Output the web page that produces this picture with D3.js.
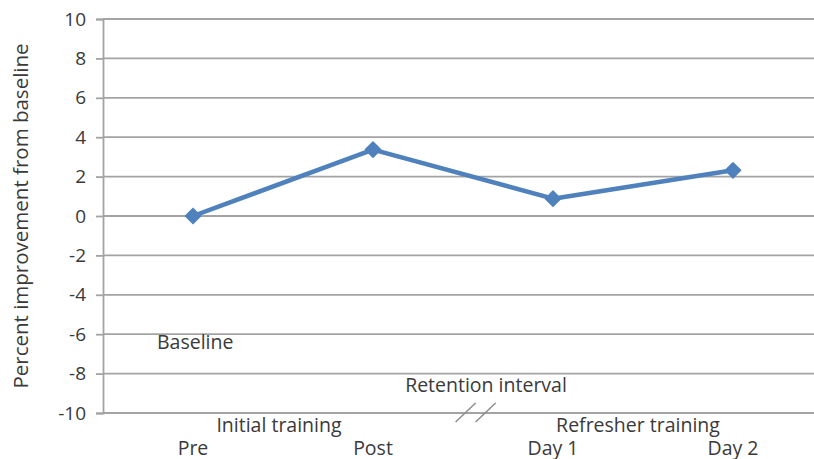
<!DOCTYPE html>
<html>
<head>
<meta charset="utf-8">
<script src="https://cdn.jsdelivr.net/npm/d3@7"></script>
<style>
  html, body { margin: 0; padding: 0; background: #fff; }
  svg text { font-family: "Open Sans", "Liberation Sans", sans-serif; fill: #3a3a3a; }
</style>
</head>
<body>
<svg id="chart" width="814" height="459"></svg>
<script>
// Sessions along the x axis and the mean percent improvement at each
const categories = ["Pre", "Post", "Day 1", "Day 2"];
const improvement = [0, 3.37, 0.88, 2.32];
const yTicks = [-10, -8, -6, -4, -2, 0, 2, 4, 6, 8, 10];

// Phase labels placed under the session labels
const phases = [
  { label: "Initial training", from: "Pre", to: "Post", row: 1 },
  { label: "Refresher training", from: "Day 1", to: "Day 2", row: 1 },
  { label: "Retention interval", from: "Post", to: "Day 1", row: 0 }
];

const svg = d3.select("#chart");
const plotLeft = 103, plotTop = 19, plotH = 394, bandW = 180;

const x = d3.scaleBand().domain(categories).range([plotLeft, plotLeft + bandW * categories.length]);
const y = d3.scaleLinear().domain([-10, 10]).range([plotTop + plotH, plotTop]);
const cx = c => x(c) + x.bandwidth() / 2;

// horizontal gridlines
svg.append("g")
  .selectAll("line")
  .data(yTicks)
  .join("line")
  .attr("x1", plotLeft).attr("x2", 814)
  .attr("y1", d => y(d)).attr("y2", d => y(d))
  .attr("stroke", "#a3a3a3").attr("stroke-width", 1.8);

// y axis with outer tick marks; plain hyphen for negatives
const yAxis = d3.axisLeft(y).tickValues(yTicks).tickSize(7).tickPadding(10).tickFormat(d => String(d));
const gy = svg.append("g").attr("transform", `translate(${plotLeft},0)`).call(yAxis);
gy.select(".domain").attr("stroke", "#a3a3a3").attr("stroke-width", 1.8);
gy.selectAll(".tick line").attr("stroke", "#a3a3a3").attr("stroke-width", 1.8);
gy.selectAll(".tick text").style("font-size", "19px").attr("fill", "#3a3a3a")
  .style("font-family", "'Open Sans', sans-serif");

// y axis title
svg.append("text")
  .attr("transform", `translate(28,${y(0)}) rotate(-90)`)
  .attr("text-anchor", "middle")
  .style("font-size", "20.5px")
  .text("Percent improvement from baseline");

// session labels
svg.append("g")
  .selectAll("text")
  .data(categories)
  .join("text")
  .attr("x", d => cx(d)).attr("y", 455)
  .attr("text-anchor", "middle")
  .style("font-size", "19.5px")
  .text(d => d);

// phase labels
const phaseShift = { "Initial training": -4, "Refresher training": -5, "Retention interval": 23 };
svg.append("g")
  .selectAll("text")
  .data(phases)
  .join("text")
  .attr("x", d => (cx(d.from) + cx(d.to)) / 2 + phaseShift[d.label])
  .attr("y", d => d.row === 1 ? 432 : 392)
  .attr("text-anchor", "middle")
  .style("font-size", "19.5px")
  .text(d => d.label);

// baseline annotation
svg.append("text")
  .attr("x", cx("Pre") - 36).attr("y", 349)
  .style("font-size", "19.5px")
  .text("Baseline");

// axis break between Post and Day 1
const breakX = cx("Post") + (cx("Day 1") - cx("Post")) * 0.57;
svg.append("g")
  .selectAll("line")
  .data([-10, 10])
  .join("line")
  .attr("x1", d => breakX + d - 10).attr("y1", y(-10) + 9)
  .attr("x2", d => breakX + d + 10).attr("y2", y(-10) - 10)
  .attr("stroke", "#8a8a8a").attr("stroke-width", 1.4);

// series line
const line = d3.line().x((d, i) => cx(categories[i])).y(d => y(d));
svg.append("path")
  .datum(improvement)
  .attr("d", line)
  .attr("fill", "none")
  .attr("stroke", "#4f81bd")
  .attr("stroke-width", 4.5)
  .attr("stroke-linejoin", "round");

// diamond markers (square symbol turned 45 degrees)
const diamond = d3.symbol().type(d3.symbolSquare).size(115);
svg.append("g")
  .selectAll("path")
  .data(improvement)
  .join("path")
  .attr("transform", (d, i) => `translate(${cx(categories[i])},${y(d)}) rotate(45)`)
  .attr("d", diamond)
  .attr("fill", "#4f81bd")
  .attr("stroke", "#4f81bd")
  .attr("stroke-width", 1.5)
  .attr("stroke-linejoin", "round");
</script>
</body>
</html>
